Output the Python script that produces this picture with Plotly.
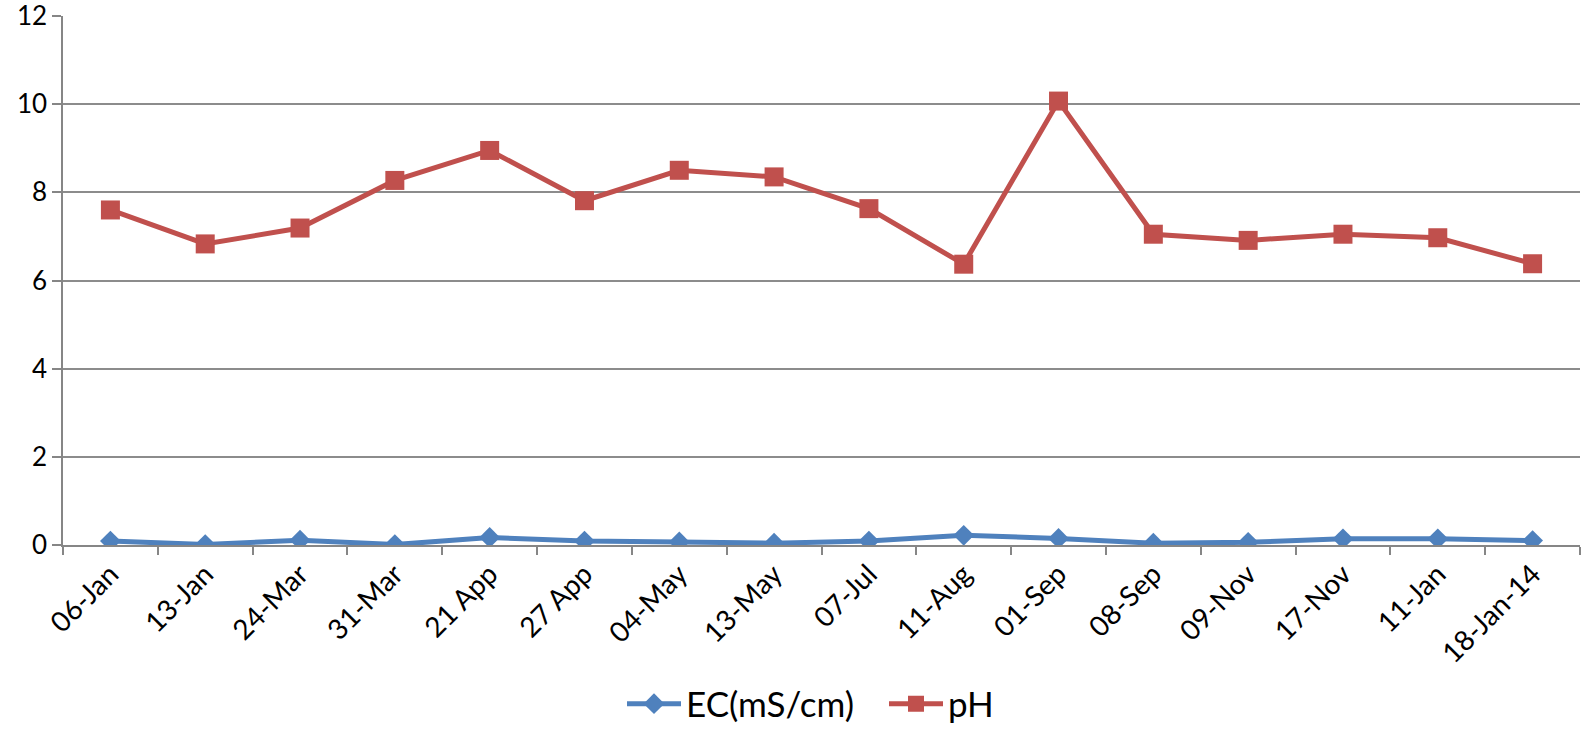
import plotly.graph_objects as go

dates = ["06-Jan", "13-Jan", "24-Mar", "31-Mar", "21 App", "27 App", "04-May", "13-May",
         "07-Jul", "11-Aug", "01-Sep", "08-Sep", "09-Nov", "17-Nov", "11-Jan", "18-Jan-14"]
ec = [0.09, 0.01, 0.11, 0.01, 0.17, 0.09, 0.07, 0.04, 0.09, 0.22, 0.15, 0.04, 0.06, 0.14, 0.14, 0.10]
ph = [7.60, 6.83, 7.19, 8.27, 8.95, 7.81, 8.50, 8.35, 7.63, 6.37, 10.07, 7.05, 6.91, 7.05, 6.97, 6.38]
y_ticks = [0, 2, 4, 6, 8, 10, 12]

FONT = "Lato"
fig = go.Figure()
fig.add_trace(go.Scatter(x=dates, y=ec, name="EC(mS/cm)", mode="lines+markers",
                         line=dict(color="#4F81BD", width=5),
                         marker=dict(symbol="diamond", size=16, color="#4F81BD")))
fig.add_trace(go.Scatter(x=dates, y=ph, name="pH", mode="lines+markers",
                         line=dict(color="#C0504D", width=5),
                         marker=dict(symbol="square", size=19, color="#C0504D")))

fig.update_layout(
    width=1582, height=731,
    margin=dict(l=63, r=2, t=16, b=186, autoexpand=False),
    paper_bgcolor="white", plot_bgcolor="white",
    font=dict(family=FONT, color="black", size=28),
    showlegend=True,
    legend=dict(orientation="h", xref="container", x=622 / 1582, xanchor="left",
                yref="container", y=0.037, yanchor="middle",
                font=dict(size=35, family=FONT), itemwidth=54,
                entrywidth=193, entrywidthmode="pixels", traceorder="normal"),
    xaxis=dict(type="category", tickangle=-45, tickson="boundaries", ticks="outside",
               ticklen=8, tickcolor="#868686", tickwidth=1.5, automargin=False,
               showline=True, linecolor="#868686", linewidth=1.5,
               showgrid=False, tickfont=dict(size=28, family=FONT), range=[-0.5, 15.5]),
    yaxis=dict(range=[0, 12], tickvals=y_ticks, ticks="outside", ticklen=9, automargin=False,
               ticklabeloverflow="allow",
               tickcolor="#868686", tickwidth=1.5, showline=True, linecolor="#868686",
               linewidth=1.5, showgrid=True, gridcolor="#8C8C8C", gridwidth=1.5,
               zeroline=False, tickfont=dict(size=26, family=FONT)),
)
fig.write_html("out.html", config={"displayModeBar": False},
               post_script="document.body.style.margin='0';")
